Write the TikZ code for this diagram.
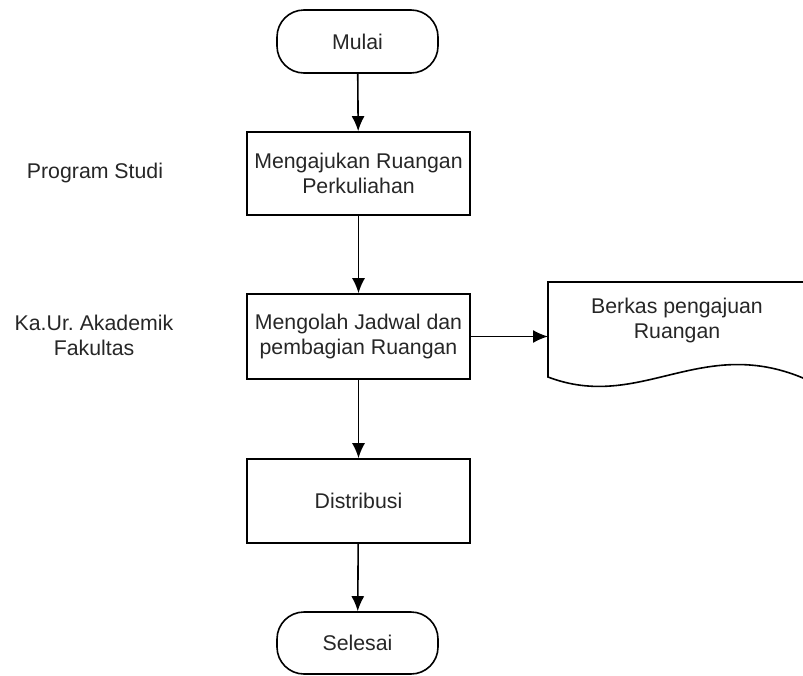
\documentclass[tikz,border=0pt]{standalone}
\usepackage{fontspec}
\setmainfont{Liberation Sans}
\frenchspacing
\usetikzlibrary{arrows.meta}
\begin{document}
\begin{tikzpicture}[x=1pt,y=-1pt,
  every node/.style={font=\fontsize{21.3}{25}\selectfont, text=black!85, align=center, inner sep=0pt},
  terminal/.style={draw, line width=1.6pt, rounded corners=27pt, minimum width=161pt, minimum height=63pt},
  process/.style={draw, line width=1.6pt, minimum width=223pt},
  flow/.style={line width=1.6pt, -{Latex[length=15pt,width=13pt]}},
  role/.style={}
]
\useasboundingbox (0,0) rectangle (803,675);
\clip (0,0) rectangle (803,675);

% swimlane roles
\node[role] (prodi) at (95,173) {Program Studi};
\node[role] (kaur) at (94,335) {Ka.Ur. Akademik\\Fakultas};

% main flow
\node[terminal] (mulai) at (357.5,41.5) {Mulai};
\node[process, minimum height=83pt] (ajukan) at (358.5,173.5) {Mengajukan Ruangan\\Perkuliahan};
\node[process, minimum height=85pt] (olah) at (358.5,336.5) {Mengolah Jadwal dan\\pembagian Ruangan};
\node[process, minimum height=84pt] (distribusi) at (358.5,501) {Distribusi};
\node[terminal, minimum height=62pt] (selesai) at (357.5,643) {Selesai};

% document output
\node[minimum width=262pt, minimum height=95pt, anchor=north west] (berkas) at (548,282) {};
\draw[line width=1.6pt] (807,282) -- (548,282) -- (548,377)
  .. controls (640,412) and (700,335) .. (803,378) -- (807,380);
\node (berkastext) at (677,320.5) {Berkas pengajuan\\Ruangan};

% connectors
\draw[flow] (mulai) -- (ajukan);
\draw[flow] (ajukan) -- (olah);
\draw[flow] (olah) -- (distribusi);
\draw[flow] (distribusi) -- (selesai);
\draw[flow] (olah.east) -- (olah.east -| berkas.west);
\end{tikzpicture}
\end{document}
